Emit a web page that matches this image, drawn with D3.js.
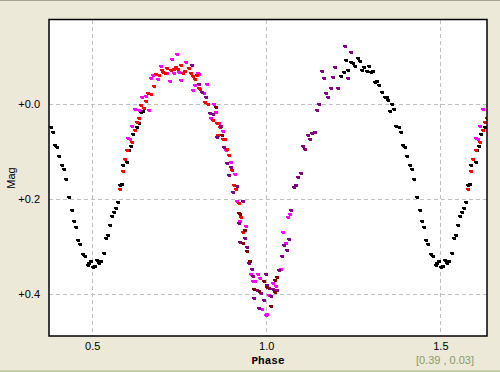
<!DOCTYPE html>
<html><head><meta charset="utf-8">
<script src="https://cdn.jsdelivr.net/npm/d3@7"></script>
<style>
html,body{margin:0;padding:0;background:#ECE9D8;}
svg{display:block;}
</style></head>
<body>
<svg id="chart" width="500" height="372"></svg>
<script>
// Phase domain and tick labels
const phaseDomain = [0.376, 1.634];
const magDomain = [-0.176, 0.487];
const xTicks = [0.5, 1.0, 1.5];
const xTickLabels = ["0.5", "1.0", "1.5"];
const yTicks = [0.0, 0.2, 0.4];
const yTickLabels = ["+0.0", "+0.2", "+0.4"];
const xTitle = "Phase";
const yTitle = "Mag";
const cursorText = "[0.39 , 0.03]";

// Series: [phase (0..1), magnitude]
const blackData = [
[0.215,-0.058],[0.223,-0.066],[0.235,-0.070],[0.230,-0.091],[0.243,-0.087],[0.250,-0.084],
[0.256,-0.079],[0.264,-0.095],[0.269,-0.089],[0.276,-0.070],[0.282,-0.077],[0.290,-0.068],
[0.296,-0.079],[0.302,-0.066],[0.307,-0.068],[0.313,-0.045],[0.319,-0.047],[0.325,-0.039],
[0.333,-0.024],[0.340,-0.014],[0.346,-0.013],[0.351,-0.007],[0.362,0.001],[0.356,0.016],
[0.368,0.011],[0.374,0.048],
[0.381,0.049],[0.388,0.059],[0.394,0.087],[0.399,0.091],[0.405,0.110],[0.413,0.129],
[0.419,0.137],[0.424,0.159],[0.434,0.196],[0.442,0.223],[0.447,0.246],[0.453,0.258],
[0.459,0.286],[0.465,0.294],[0.474,0.315],[0.480,0.320],[0.487,0.338],[0.491,0.335],
[0.496,0.330],[0.503,0.342],[0.509,0.340],[0.514,0.328],[0.520,0.334],[0.525,0.330],
[0.534,0.313],[0.540,0.282],[0.545,0.276],[0.551,0.254],[0.557,0.236],[0.562,0.228],
[0.569,0.219],[0.574,0.207],[0.580,0.170],[0.586,0.168],[0.589,0.129],[0.601,0.122],
[0.606,0.098],[0.612,0.089],[0.617,0.064],[0.628,0.049],[0.635,0.041],[0.641,0.018],
[0.647,0.015]
];
const redData = [
[0.580,0.179],[0.589,0.142],[0.595,0.116],[0.601,0.098],[0.614,0.081],[0.622,0.056],
[0.628,0.039],[0.634,0.031],[0.641,0.004],[0.649,0.010],[0.655,-0.005],[0.661,-0.022],
[0.670,-0.019],[0.678,-0.037],[0.683,-0.061],[0.693,-0.059],[0.700,-0.070],[0.704,-0.066],
[0.709,-0.063],[0.714,-0.075],[0.725,-0.070],[0.735,-0.073],[0.741,-0.077],[0.747,-0.073],
[0.756,-0.080],[0.761,-0.064],[0.768,-0.068],[0.777,-0.074],[0.783,-0.063],[0.789,-0.057],
[0.796,-0.052],[0.802,-0.059],[0.807,-0.033],[0.810,-0.031],[0.823,-0.003],[0.832,0.000],
[0.848,0.035],[0.859,0.040],[0.866,0.049],[0.861,0.066],[0.876,0.075],[0.882,0.075],
[0.888,0.096],[0.893,0.108],[0.902,0.139],[0.908,0.171],[0.913,0.179],[0.922,0.209],
[0.928,0.237],[0.934,0.269]
];
const magentaData = [
[0.003,0.440],[0.008,0.402],[0.018,0.377],[0.028,0.383],[0.043,0.346],[0.049,0.269],
[0.057,0.292],[0.062,0.238],[0.068,0.232],
[0.603,0.072],[0.608,0.075],[0.614,0.047],[0.623,0.012],[0.635,0.014],[0.644,-0.013],
[0.654,-0.015],[0.663,0.014],[0.669,-0.053],[0.675,-0.059],[0.690,-0.051],[0.697,-0.079],
[0.716,-0.063],[0.723,-0.047],[0.729,-0.093],[0.735,-0.063],[0.744,-0.104],[0.750,-0.066],
[0.756,-0.049],[0.769,-0.086],[0.790,-0.028],[0.796,-0.039],[0.804,-0.063],[0.807,-0.062],
[0.821,-0.021],[0.830,-0.041],[0.840,0.030],[0.850,0.001],[0.855,0.017],[0.863,0.041],
[0.876,0.057],[0.885,0.098],[0.898,0.123],[0.911,0.147],[0.917,0.205],[0.926,0.246],
[0.942,0.257],[0.956,0.357],[0.963,0.372],[0.968,0.372],[0.977,0.357],[0.982,0.366],
[0.989,0.431],[0.999,0.443]
];
const purpleData = [
[0.000,0.357],[0.003,0.381],[0.008,0.387],[0.014,0.404],[0.018,0.388],[0.032,0.391],
[0.036,0.349],[0.045,0.320],[0.052,0.296],[0.060,0.307],[0.065,0.284],[0.072,0.223],
[0.080,0.175],[0.085,0.171],[0.092,0.154],[0.100,0.145],[0.106,0.089],[0.112,0.096],
[0.121,0.066],[0.126,0.074],[0.132,0.062],[0.140,0.059],[0.147,0.014],[0.152,0.001],
[0.160,-0.068],[0.166,-0.053],[0.172,-0.022],[0.178,-0.013],[0.186,-0.033],[0.193,-0.056],
[0.198,-0.077],[0.207,-0.033],[0.227,-0.121],[0.235,-0.054],[0.243,-0.107],
[0.787,-0.080],[0.807,-0.040],[0.815,-0.024],[0.827,-0.014],[0.838,0.019],[0.846,0.021],
[0.859,0.070],[0.871,0.047],[0.879,0.091],[0.886,0.125],[0.894,0.150],[0.898,0.133],
[0.905,0.185],[0.915,0.173],[0.921,0.251],[0.926,0.290],[0.934,0.204],[0.940,0.282],
[0.945,0.300],[0.951,0.335],[0.959,0.346],[0.961,0.362],[0.966,0.407],[0.972,0.391],
[0.980,0.429],[0.985,0.397],[0.994,0.412]
];
const darkRedData = [
[0.001,0.384],[0.014,0.425],[0.026,0.370],[0.026,0.394],[0.032,0.363],
[0.855,0.008],[0.874,0.066],[0.921,0.229],[0.926,0.232],[0.934,0.292],[0.938,0.264],
[0.945,0.309],[0.954,0.330],[0.966,0.388],[0.979,0.392],[0.993,0.372]
];

const series = [
  {name:"black", color:"#000000", data:blackData},
  {name:"magenta", color:"#FF00FF", data:magentaData},
  {name:"red", color:"#FF0000", data:redData},
  {name:"purple", color:"#800080", data:purpleData},
  {name:"darkred", color:"#800000", data:darkRedData}
];

const svg = d3.select("#chart");
const W = 500, H = 372;
const plot = {left:49, right:487, top:19.5, bottom:336};

// background decorations
svg.append("rect").attr("x",0).attr("y",0).attr("width",W).attr("height",H).attr("fill","#ECE9D8");
svg.append("rect").attr("x",0).attr("y",0).attr("width",W).attr("height",1).attr("fill","#A8A493");
svg.append("rect").attr("x",0).attr("y",370).attr("width",W).attr("height",2).attr("fill","#C9D1A6");

const x = d3.scaleLinear().domain(phaseDomain).range([plot.left, plot.right]);
const y = d3.scaleLinear().domain(magDomain).range([plot.top, plot.bottom]);

svg.append("rect").attr("x",plot.left).attr("y",plot.top)
  .attr("width",plot.right-plot.left).attr("height",plot.bottom-plot.top).attr("fill","#fff");

svg.append("clipPath").attr("id","clip").append("rect")
  .attr("x",plot.left).attr("y",plot.top).attr("width",plot.right-plot.left).attr("height",plot.bottom-plot.top);

// grid
const grid = svg.append("g").attr("stroke","#C0C0C0").attr("stroke-dasharray","4,3").attr("shape-rendering","crispEdges");
grid.selectAll(".vx").data(xTicks).join("line")
  .attr("x1",d=>Math.round(x(d))+0.5).attr("x2",d=>Math.round(x(d))+0.5)
  .attr("y1",plot.top).attr("y2",plot.bottom);
grid.selectAll(".hy").data(yTicks).join("line")
  .attr("y1",d=>Math.round(y(d))+0.5).attr("y2",d=>Math.round(y(d))+0.5)
  .attr("x1",plot.left).attr("x2",plot.right);

// points (small square with a short tail on the left)
const pts = svg.append("g").attr("clip-path","url(#clip)").attr("shape-rendering","crispEdges");
series.forEach(s => {
  const expanded = [];
  s.data.forEach(([p,m]) => {
    [-1,0,1].forEach(k => {
      const ph = p + k;
      if (ph >= phaseDomain[0] && ph <= phaseDomain[1]) expanded.push([ph,m]);
    });
  });
  const g = pts.append("g").attr("fill", s.color);
  const mk = g.selectAll("g").data(expanded).join("g")
    .attr("transform", d => `translate(${Math.round(x(d[0]))},${Math.round(y(d[1]))})`);
  mk.append("rect").attr("x",-1).attr("y",-1).attr("width",3).attr("height",3);
  mk.append("rect").attr("x",-2).attr("y",-1).attr("width",1).attr("height",2);
});

// frame
svg.append("rect").attr("x",plot.left).attr("y",plot.top)
  .attr("width",plot.right-plot.left).attr("height",plot.bottom-plot.top)
  .attr("fill","none").attr("stroke","#000").attr("stroke-width",1.5);

// axes
const xAxis = d3.axisBottom(x).tickValues(xTicks).tickFormat((d,i)=>xTickLabels[i]).tickSize(0).tickPadding(6);
const gx = svg.append("g").attr("transform",`translate(0,${plot.bottom})`).call(xAxis);
gx.select(".domain").remove();
gx.selectAll("text").attr("font-family","Liberation Sans, Arial, sans-serif").attr("font-size",11).attr("fill","#000");

const yAxis = d3.axisLeft(y).tickValues(yTicks).tickFormat((d,i)=>yTickLabels[i]).tickSize(0).tickPadding(9);
const gy = svg.append("g").attr("transform",`translate(${plot.left},0)`).call(yAxis);
gy.select(".domain").remove();
gy.selectAll("text").attr("font-family","Liberation Sans, Arial, sans-serif").attr("font-size",11).attr("fill","#000");

svg.append("text").attr("x",268).attr("y",364).attr("text-anchor","middle")
  .attr("font-family","'Liberation Mono', 'Courier New', monospace").attr("font-weight","bold")
  .attr("font-size",11).attr("fill","#000").text(xTitle);

svg.append("text").attr("transform","translate(15,178) rotate(-90)").attr("text-anchor","middle")
  .attr("font-family","Liberation Sans, Arial, sans-serif").attr("font-size",11).attr("fill","#000").text(yTitle);

svg.append("text").attr("x",445).attr("y",364).attr("text-anchor","middle")
  .attr("font-family","Liberation Sans, Arial, sans-serif").attr("font-size",11).attr("fill","#8A9A6C").text(cursorText);
</script>
</body></html>
